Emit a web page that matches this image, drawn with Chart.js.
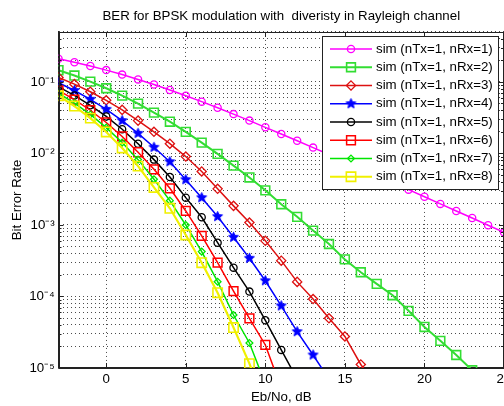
<!DOCTYPE html>
<html><head><meta charset="utf-8">
<script src="https://cdn.jsdelivr.net/npm/chart.js@4.4.0/dist/chart.umd.min.js"></script>
<style>html,body{margin:0;padding:0;background:#fff;} #wrap{width:504px;height:406px;overflow:hidden;}</style>
</head><body><div id="wrap"><canvas id="c" width="504" height="406"></canvas></div>
<script>
// ---- data ----
const ebn0 = [-3,-2,-1,0,1,2,3,4,5,6,7,8,9,10,11,12,13,14,15,16,17,18,19,20,21,22,23,24,25];
const ber_nRx1 = [0.2111,0.1890,0.1673,0.1464,0.1267,0.1085,0.0919,0.0771,0.0642,0.0530,0.0435,0.0355,0.0288,0.0232,0.01874,0.01506,0.01207,0.00966,0.00772,0.00616,0.00491,0.00392,0.00312,0.00248,0.00197,0.00157,0.00125,0.000992,0.000789];
const ber_nRx2 = [0.146,0.1229,0.1012,0.0816,0.0645,0.0497,0.0372,0.0278,0.0200,0.01416,0.00985,0.00675,0.00462,0.00305,0.00195,0.00130,0.000835,0.000542,0.000330,0.000218,0.000150,0.000104,0.000063,0.0000375,0.000024,0.0000152,0.0000093];
const ber_nRx3 = [0.1156,0.0932,0.0730,0.0554,0.0407,0.0288,0.0201,0.0137,0.00905,0.00560,0.00320,0.00185,0.00108,0.000600,0.000317,0.000160,0.000092,0.0000495,0.0000276,0.0000112,0.0000055];
const ber_nRx4 = [0.0974,0.0760,0.0572,0.0414,0.0288,0.0191,0.0122,0.00767,0.00430,0.00241,0.00131,0.000673,0.000342,0.000166,0.000074,0.0000322,0.0000152,0.0000070];
const ber_nRx5 = [0.0852,0.0648,0.0472,0.0329,0.0218,0.0137,0.0082,0.00469,0.00241,0.00128,0.000565,0.000253,0.000117,0.0000465,0.0000179,0.0000070];
const ber_nRx6 = [0.0763,0.0567,0.0402,0.0271,0.0173,0.0104,0.0060,0.00326,0.00157,0.000702,0.000297,0.000119,0.0000495,0.0000210,0.0000052];
const ber_nRx7 = [0.0695,0.0507,0.0351,0.0230,0.0142,0.0082,0.00436,0.00219,0.00100,0.000424,0.000161,0.0000551,0.0000224,0.0000060];
const ber_nRx8 = [0.0641,0.0460,0.0312,0.0200,0.01195,0.00665,0.00335,0.00171,0.000724,0.000297,0.000113,0.0000368,0.0000115,0.0000030];
const seriesLabels = ['sim (nTx=1, nRx=1)','sim (nTx=1, nRx=2)','sim (nTx=1, nRx=3)','sim (nTx=1, nRx=4)','sim (nTx=1, nRx=5)','sim (nTx=1, nRx=6)','sim (nTx=1, nRx=7)','sim (nTx=1, nRx=8)'];
const xTickValues = [0,5,10,15,20,25];
const yDecades = [1e-5,1e-4,1e-3,1e-2,1e-1];
const yTickLabels = ['10\u207B\u2075','10\u207B\u2074','10\u207B\u00B3','10\u207B\u00B2','10\u207B\u00B9'];
const titleText = 'BER for BPSK modulation with  diveristy in Rayleigh channel';
const xTitle = 'Eb/No, dB';
const yTitle = 'Bit Error Rate';

// ---- styling ----
const FONT = '"Liberation Sans", Arial, Helvetica, sans-serif';
const FS = 13.3;
function makeStar(color, r){
  const c = document.createElement('canvas'); const s = Math.ceil(r*2+2);
  c.width = s; c.height = s; const g = c.getContext('2d');
  g.beginPath();
  for (let i=0;i<10;i++){ const a=-Math.PI/2+i*Math.PI/5; const rr=(i%2)?r*0.45:r; g.lineTo(s/2+rr*Math.cos(a), s/2+rr*Math.sin(a)); }
  g.closePath(); g.fillStyle=color; g.fill(); g.strokeStyle=color; g.lineWidth=1; g.stroke();
  return c;
}
const styles = [
  {color:'#ff00ff', width:1.5, point:'circle', r:3.6, pbw:1.3},
  {color:'#33dd33', width:2,   point:'rect', r:6.2, pbw:1.6},
  {color:'#dd1111', width:1.5, point:'rectRot', r:4.6, pbw:1.3},
  {color:'#0000ff', width:1.5, point:makeStar('#0000ff',5.2), r:5, pbw:1},
  {color:'#000000', width:1.5, point:'circle', r:3.6, pbw:1.3},
  {color:'#ff0000', width:1.5, point:'rect', r:6.2, pbw:1.5},
  {color:'#00e600', width:1.5, point:'rectRot', r:3.4, pbw:1.3},
  {color:'#f0f000', width:2.2, point:'rect', r:6.6, pbw:1.6}
];
const allSeries = [ber_nRx1,ber_nRx2,ber_nRx3,ber_nRx4,ber_nRx5,ber_nRx6,ber_nRx7,ber_nRx8];
const datasets = allSeries.map((ser,k)=>({
  label: seriesLabels[k],
  data: ser.map((v,i)=>({x: ebn0[i], y: v})),
  borderColor: styles[k].color, borderWidth: styles[k].width,
  pointStyle: styles[k].point, pointRadius: styles[k].r, pointHoverRadius: styles[k].r,
  pointBorderColor: styles[k].color, pointBackgroundColor: 'rgba(0,0,0,0)', pointBorderWidth: styles[k].pbw,
  tension: 0, fill: false, clip: 0, order: 8-k
}));

const gridColor = 'rgba(0,0,0,0.7)';

const framePlugin = {
  id: 'frame',
  afterDatasetsDraw(chart){
    const {ctx, chartArea: a, scales: {x, y}} = chart;
    ctx.save();
    ctx.strokeStyle = '#222'; ctx.lineWidth = 1;
    ctx.beginPath();
    ctx.moveTo(a.left, Math.round(a.top)+0.5); ctx.lineTo(a.right, Math.round(a.top)+0.5);
    ctx.moveTo(Math.round(a.left)+0.5, a.top); ctx.lineTo(Math.round(a.left)+0.5, a.bottom);
    ctx.moveTo(a.left, Math.round(a.bottom)+0.5); ctx.lineTo(a.right, Math.round(a.bottom)+0.5);
    ctx.moveTo(Math.round(a.right)-0.5, a.top); ctx.lineTo(Math.round(a.right)-0.5, a.bottom);
    x.ticks.forEach(t=>{ const px = Math.round(x.getPixelForValue(t.value))+0.5;
      ctx.moveTo(px, a.bottom); ctx.lineTo(px, a.bottom-5);
      ctx.moveTo(px, a.top); ctx.lineTo(px, a.top+5); });
    y.ticks.forEach(t=>{ const py = Math.round(y.getPixelForValue(t.value))+0.5; const len = t.major ? 5 : 3;
      ctx.moveTo(a.left, py); ctx.lineTo(a.left+len, py);
      ctx.moveTo(a.right, py); ctx.lineTo(a.right-len, py); });
    ctx.stroke();
    ctx.restore();
  }
};

function drawMarker(ctx, st, cx, cy){
  const p = st.point;
  if (typeof p === 'object'){ ctx.drawImage(p, cx-p.width/2, cy-p.height/2); return; }
  ctx.save(); ctx.strokeStyle = st.color; ctx.lineWidth = st.pbw; ctx.beginPath();
  if (p === 'circle'){ ctx.arc(cx, cy, st.r, 0, Math.PI*2); }
  else if (p === 'rect'){ const s = Math.SQRT1_2*st.r; ctx.rect(cx-s, cy-s, 2*s, 2*s); }
  else if (p === 'rectRot'){ ctx.moveTo(cx, cy-st.r); ctx.lineTo(cx+st.r, cy); ctx.lineTo(cx, cy+st.r); ctx.lineTo(cx-st.r, cy); ctx.closePath(); }
  ctx.stroke(); ctx.restore();
}

const legendPlugin = {
  id: 'matlabLegend',
  afterDatasetsDraw(chart){
    const ctx = chart.ctx;
    const bx = 322.5, by = 36.5, bw = 176, bh = 153;
    ctx.save();
    ctx.fillStyle = '#fff'; ctx.fillRect(bx, by, bw, bh);
    ctx.strokeStyle = '#222'; ctx.lineWidth = 1; ctx.strokeRect(bx, by, bw, bh);
    chart.data.datasets.forEach((ds,k)=>{
      const yy = 49 + k*18.25;
      const st = styles[k];
      ctx.strokeStyle = ds.borderColor; ctx.lineWidth = ds.borderWidth;
      ctx.beginPath(); ctx.moveTo(330, yy); ctx.lineTo(372, yy); ctx.stroke();
      drawMarker(ctx, st, 351, yy);
      ctx.fillStyle = '#000'; ctx.font = FS + 'px ' + FONT; ctx.textBaseline = 'middle'; ctx.textAlign = 'left';
      ctx.fillText(ds.label, 376, yy);
    });
    ctx.restore();
  }
};

function zeroPad(s){ s.paddingLeft = 0; s.paddingRight = 0; s.paddingTop = 0; s.paddingBottom = 0; }

new Chart(document.getElementById('c'), {
  type: 'line',
  data: { datasets },
  options: {
    responsive: false, animation: false, devicePixelRatio: 1,
    layout: { padding: { left: 0, right: -1.5, top: 0, bottom: 0 }, autoPadding: false },
    plugins: {
      legend: { display: false }, tooltip: { enabled: false },
      title: { display: true, fullSize: false, text: titleText, color: '#000', font: { family: FONT, size: FS, weight: 'normal' }, padding: { top: 8.7, bottom: 7.3 } }
    },
    scales: {
      x: {
        type: 'linear', min: -3, max: 25,
        afterBuildTicks: s => { s.ticks = xTickValues.map(v => ({ value: v })); },
        afterFit: s => { s.height = 38; zeroPad(s); },
        grid: { color: gridColor, lineWidth: 1, drawTicks: false },
        border: { display: true, color: '#222', width: 1, dash: [1, 3] },
        ticks: { padding: 3.3, color: '#000', font: { family: FONT, size: FS }, maxRotation: 0, autoSkip: false },
        title: { display: true, text: xTitle, color: '#000', font: { family: FONT, size: FS }, padding: { top: 0, bottom: 1 } }
      },
      y: {
        type: 'logarithmic', min: 1e-5, max: 0.5,
        afterBuildTicks: s => {
          const t = [];
          for (let e = -5; e <= -1; e++) for (let m = 1; m <= 9; m++) {
            const v = m * Math.pow(10, e);
            if (v <= 0.5000001) t.push({ value: v, major: m === 1 });
          }
          s.ticks = t;
        },
        afterFit: s => { s.width = 58.5; zeroPad(s); },
        grid: { color: gridColor, lineWidth: 1, drawTicks: false },
        border: { display: true, color: '#222', width: 1, dash: [1, 3] },
        ticks: {
          autoSkip: false, padding: 3.8, color: '#000', font: { family: FONT, size: FS },
          callback: (v) => { const i = yDecades.findIndex(d => Math.abs(d - v) / d < 1e-6); return i >= 0 ? yTickLabels[i] : ''; }
        },
        title: { display: true, text: yTitle, color: '#000', font: { family: FONT, size: FS }, padding: { top: 9.7, bottom: 0 } }
      }
    }
  },
  plugins: [framePlugin, legendPlugin]
});
</script>
</body></html>
